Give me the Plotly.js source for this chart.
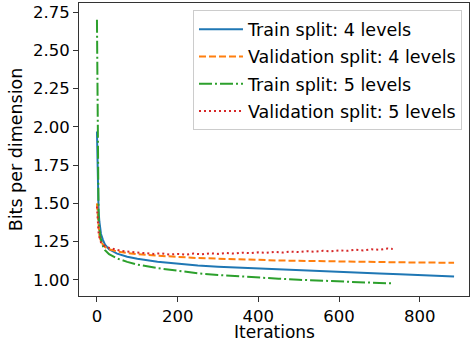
<!DOCTYPE html>
<html>
<head>
<meta charset="utf-8">
<script src="https://cdn.plot.ly/plotly-3.0.1.min.js"></script>
<style>html,body{margin:0;padding:0;background:#fff;}#chart{width:470px;height:341px;}</style>
</head>
<body>
<div id="chart"></div>
<script>
// Iterations and values
const iter4 = [0, 2, 4, 6, 8, 10, 15, 20, 30, 40, 50, 75, 100, 150, 200, 250, 300, 350, 400, 450, 500, 550, 600, 650, 700, 750, 800, 850, 885];
const train4 = [1.97, 1.60, 1.45, 1.38, 1.33, 1.30, 1.26, 1.23, 1.20, 1.185, 1.172, 1.152, 1.138, 1.118, 1.104, 1.094, 1.086, 1.08, 1.074, 1.068, 1.062, 1.057, 1.051, 1.046, 1.042, 1.037, 1.032, 1.027, 1.023];
const val4 = [1.50, 1.40, 1.33, 1.29, 1.27, 1.25, 1.23, 1.215, 1.20, 1.193, 1.186, 1.176, 1.168, 1.158, 1.149, 1.143, 1.139, 1.134, 1.13, 1.127, 1.125, 1.122, 1.12, 1.118, 1.117, 1.115, 1.114, 1.113, 1.112];

const iter5 = [0, 2, 4, 6, 8, 10, 15, 20, 30, 40, 50, 75, 100, 150, 200, 250, 300, 350, 400, 450, 500, 550, 600, 650, 700, 733];
const train5 = [2.70, 1.55, 1.40, 1.33, 1.29, 1.26, 1.22, 1.195, 1.168, 1.152, 1.14, 1.118, 1.10, 1.077, 1.058, 1.043, 1.032, 1.023, 1.015, 1.008, 1.001, 0.995, 0.989, 0.984, 0.98, 0.978];

const iterVal5 = [0, 2, 4, 6, 8, 10, 15, 20, 30, 40, 50, 60, 80, 100, 120, 140, 160, 180, 200, 220, 240, 260, 280, 300, 320, 340, 360, 380, 400, 420, 440, 460, 480, 500, 520, 540, 560, 580, 600, 620, 640, 660, 680, 700, 720, 733];
const val5 = [1.48, 1.38, 1.31, 1.28, 1.26, 1.245, 1.23, 1.22, 1.21, 1.203, 1.197, 1.19, 1.184, 1.178, 1.176, 1.17, 1.174, 1.166, 1.17, 1.165, 1.172, 1.167, 1.174, 1.17, 1.176, 1.172, 1.178, 1.175, 1.18, 1.177, 1.183, 1.179, 1.185, 1.182, 1.188, 1.184, 1.19, 1.187, 1.193, 1.19, 1.197, 1.193, 1.2, 1.197, 1.205, 1.202];

const names = ["Train split: 4 levels", "Validation split: 4 levels", "Train split: 5 levels", "Validation split: 5 levels"];
const xTicks = [0, 200, 400, 600, 800];
const yTicks = [1.00, 1.25, 1.50, 1.75, 2.00, 2.25, 2.50, 2.75];
const xTitle = "Iterations";
const yTitle = "Bits per dimension";

const font = "DejaVu Sans, sans-serif";
const traces = [
  {x: iter4, y: train4, name: names[0], legendgroup: "a", mode: "lines", line: {color: "#1f77b4", width: 2}},
  {x: iter4, y: val4, name: names[1], legendgroup: "b", mode: "lines", line: {color: "#ff7f0e", width: 2, dash: "7px,3px"}},
  {x: iter5, y: train5, name: names[2], legendgroup: "c", mode: "lines", line: {color: "#2ca02c", width: 2, dash: "13px,3px,2px,3px"}},
  {x: iterVal5, y: val5, name: names[3], legendgroup: "d", mode: "lines", line: {color: "#d62728", width: 2, dash: "2px,3px"}}
];

const axisCommon = {
  showgrid: false, zeroline: false, showline: true, mirror: true,
  linecolor: "#333", linewidth: 1, ticks: "outside", ticklen: 5, tickcolor: "#333",
  tickfont: {family: font, size: 16.5, color: "#000"}
};

const layout = {
  width: 470, height: 341,
  margin: {l: 79, r: 1, t: 3, b: 45},
  paper_bgcolor: "#fff", plot_bgcolor: "#fff",
  showlegend: true,
  xaxis: Object.assign({}, axisCommon, {
    range: [-44.5, 922], tickvals: xTicks, ticktext: xTicks.map(String)
  }),
  yaxis: Object.assign({}, axisCommon, {
    range: [0.895, 2.809], tickvals: yTicks, ticktext: yTicks.map(v => v.toFixed(2)),
    title: {text: yTitle, font: {family: font, size: 17.5, color: "#000"}, standoff: 5}
  }),
  annotations: [{
    text: xTitle, xref: "paper", yref: "paper", x: 0.5, y: 0,
    xanchor: "center", yanchor: "middle", yshift: -35.5, showarrow: false,
    font: {family: font, size: 17, color: "#000"}
  }],
  legend: {
    x: 0.982, y: 0.975, xanchor: "right", yanchor: "top",
    bgcolor: "rgba(255,255,255,0.8)", bordercolor: "#ccc", borderwidth: 1,
    font: {family: font, size: 17.5, color: "#000"}, tracegroupgap: 1.5,
    itemwidth: 44
  }
};

Plotly.newPlot("chart", traces, layout, {displayModeBar: false, staticPlot: true});
</script>
</body>
</html>
